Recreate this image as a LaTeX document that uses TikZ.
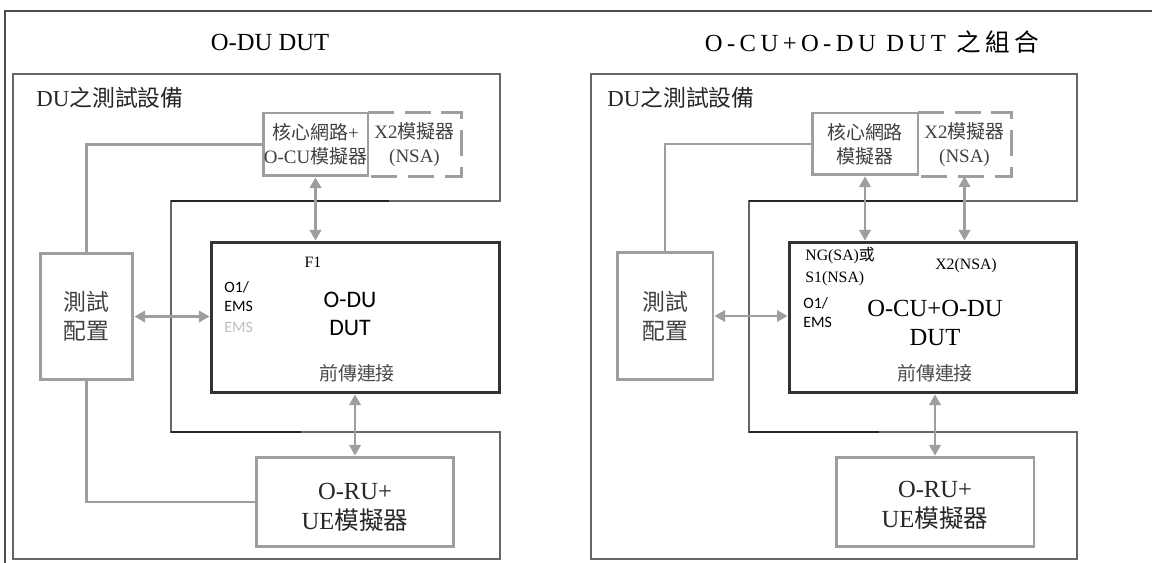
\documentclass[tikz,border=0pt]{standalone}
\usepackage{fontspec}
\setmainfont{Liberation Serif}
\newfontfamily\cjkfont{Noto Sans CJK TC}
\newfontfamily\calfont{Carlito}
\usetikzlibrary{arrows.meta}

\begin{document}
\begin{tikzpicture}[x=0.02cm, y=-0.02cm,
    outer/.style={draw=black!70, line width=1.1pt},
    frame/.style={draw=black!60, line width=1.1pt},
    darkseg/.style={draw=black!85, line width=1.1pt},
    graybox/.style={draw=black!38, line width=1.7pt, inner sep=0pt, align=center, text=black!75},
    dashbox/.style={inner sep=0pt, align=center, text=black!75},
    dashline/.style={draw=black!38, line width=1.7pt, dash pattern=on 15pt off 6pt},
    dutbox/.style={draw=black!80, line width=1.7pt, inner sep=0pt},
    link/.style={draw=black!38, line width=1.3pt},
    biarrow/.style={link, {Triangle[length=6pt,width=6.5pt]}-{Triangle[length=6pt,width=6.5pt]}},
    ttl/.style={font=\fontsize{14}{17}\selectfont},
    eqlabel/.style={font=\fontsize{13}{16}\selectfont, text=black!85, anchor=west, inner sep=0pt},
    boxtext/.style={font=\fontsize{10.8}{13.6}\selectfont},
    cfgtext/.style={font=\fontsize{13}{16.4}\selectfont},
    orutext/.style={font=\fontsize{14}{17}\selectfont, align=center, text=black!85},
    small/.style={font=\fontsize{9}{12.5}\selectfont, inner sep=0pt},
    smallsans/.style={font=\calfont\fontsize{9}{10.8}\selectfont, inner sep=0pt, align=left, anchor=west},
    fhtext/.style={font=\fontsize{10.8}{13}\selectfont, text=black!70}]
  \useasboundingbox (0,0) rectangle (1152,563);
  \draw[outer] (5,563) -- (5,11) -- (1152,11);

  % left panel: O-DU DUT
  \node[ttl] (ttlA) at (270,42) {O-DU DUT};
  \draw[frame] (13,74) -- (500,74) -- (500,201) -- (171,201) -- (171,432)
    -- (500,432) -- (500,559) -- (13,559) -- cycle;
  \draw[darkseg] (171,201) -- (389,201);
  \draw[darkseg] (171,432) -- (301,432);
  \node[eqlabel] (eqA) at (36,98) {DU{\cjkfont 之測試設備}};
  \node[dashbox, boxtext, minimum width=1.86cm, minimum height=1.26cm] (x2A) at (414.5,144.5)
    {X2{\cjkfont 模擬器}\\(NSA)};
  \draw[dashline] (x2A.north west) -- (x2A.north east) -- (x2A.south east) -- (x2A.south west);
  \node[graybox, boxtext, minimum width=2.1cm, minimum height=1.26cm] (coreA) at (315.5,144.5)
    {{\cjkfont 核心網路}+\\O-CU{\cjkfont 模擬器}};
  \node[graybox, cfgtext, minimum width=1.86cm, minimum height=2.54cm] (cfgA) at (86.5,316.5)
    {{\cjkfont 測試}\\{\cjkfont 配置}};
  \node[dutbox, minimum width=5.78cm, minimum height=3.02cm] (dutA) at (355.5,317.5) {};
  \node[graybox, minimum width=3.96cm, minimum height=1.8cm] (oruA) at (355,502) {};
  \node[orutext] (oruAtxt) at (355,507) {O-RU+\\UE{\cjkfont 模擬器}};
  \node[small] (f1A) at (313,262) {F1};
  \node[smallsans] (o1A) at (224,297) {O1/\\EMS};
  \node[smallsans, text=black!25] (emsA) at (224,327) {EMS};
  \node[font=\calfont\fontsize{13.5}{15.9}\selectfont, align=center] (duA) at (350,314) {O-DU\\DUT};
  \node[fhtext] (fhA) at (357,373) {\cjkfont 前傳連接};
  \draw[link] (cfgA.north) |- (coreA.west);
  \draw[link] (cfgA.south) |- (oruA.west);
  \draw[biarrow] (coreA.south) -- (coreA.south |- dutA.north);
  \draw[biarrow] (cfgA.east) -- (cfgA.east -| dutA.west);
  \draw[biarrow] (oruA.north |- dutA.south) -- (oruA.north);

  % right panel: O-CU+O-DU DUT
  \node[ttl] (ttlB) at (872,42)
    {\addfontfeature{LetterSpace=18}O-CU+O-DU DUT {\cjkfont\addfontfeature{LetterSpace=18}之組合}};
  \draw[frame] (591,74) -- (1077,74) -- (1077,201) -- (749,201) -- (749,432)
    -- (1077,432) -- (1077,559) -- (591,559) -- cycle;
  \draw[darkseg] (749,201) -- (966,201);
  \draw[darkseg] (749,432) -- (879,432);
  \node[eqlabel] (eqB) at (607,98) {DU{\cjkfont 之測試設備}};
  \node[dashbox, boxtext, minimum width=1.86cm, minimum height=1.26cm] (x2B) at (964.5,144.5)
    {X2{\cjkfont 模擬器}\\(NSA)};
  \draw[dashline] (x2B.north west) -- (x2B.north east) -- (x2B.south east) -- (x2B.south west);
  \node[graybox, boxtext, minimum width=2.12cm, minimum height=1.24cm] (coreB) at (865,144)
    {{\cjkfont 核心網路}\\{\cjkfont 模擬器}};
  \node[graybox, cfgtext, minimum width=1.92cm, minimum height=2.56cm] (cfgB) at (665,316)
    {{\cjkfont 測試}\\{\cjkfont 配置}};
  \node[dutbox, minimum width=5.76cm, minimum height=3.02cm] (dutB) at (933,317.5) {};
  \node[graybox, minimum width=3.96cm, minimum height=1.8cm] (oruB) at (935,502) {};
  \node[orutext] (oruBtxt) at (935,505) {O-RU+\\UE{\cjkfont 模擬器}};
  \node[small, align=left, anchor=west] (ngB) at (805,267) {NG(SA){\cjkfont 或}\\S1(NSA)};
  \node[small] (x2nsaB) at (966,266) {X2(NSA)};
  \node[smallsans] (o1B) at (803,313) {O1/\\EMS};
  \node[font=\fontsize{14}{16.4}\selectfont, align=center] (cuB) at (935,323) {O-CU+O-DU\\DUT};
  \node[fhtext] (fhB) at (935,373) {\cjkfont 前傳連接};
  \draw[link] (cfgB.north) |- (coreB.west);
  \draw[biarrow] (coreB.south) -- (coreB.south |- dutB.north);
  \draw[biarrow] (x2B.south) -- (x2B.south |- dutB.north);
  \draw[biarrow] (cfgB.east) -- (cfgB.east -| dutB.west);
  \draw[biarrow] (oruB.north |- dutB.south) -- (oruB.north);
\end{tikzpicture}
\end{document}
